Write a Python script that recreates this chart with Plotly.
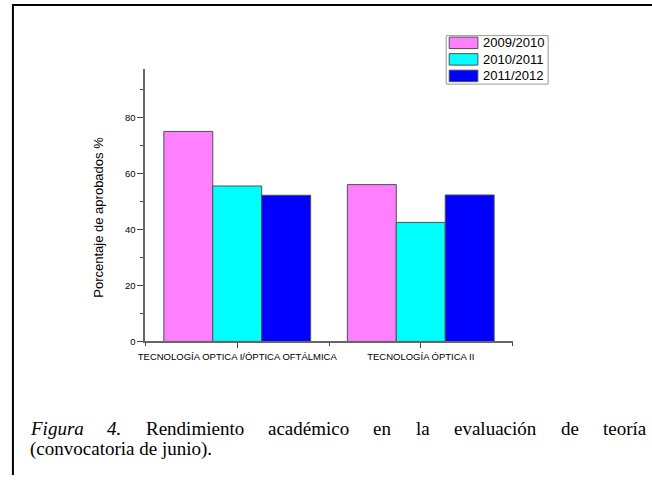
import plotly.graph_objects as go

# ---- data -------------------------------------------------------------
categories = ["TECNOLOGÍA OPTICA I/ÓPTICA OFTÁLMICA", "TECNOLOGÍA ÓPTICA II"]
series_names = ["2009/2010", "2010/2011", "2011/2012"]
values_2009_2010 = [75.0, 56.0]
values_2010_2011 = [55.5, 42.5]
values_2011_2012 = [52.2, 52.3]
series_values = [values_2009_2010, values_2010_2011, values_2011_2012]
series_colors = ["#FF80FF", "#00FFFF", "#0000FF"]
y_ticks = [0, 20, 40, 60, 80]
y_title = "Porcentaje de aprobados %"
caption_line1 = [("Figura", True), ("4.", True), ("Rendimiento", False),
                 ("académico", False), ("en", False), ("la", False),
                 ("evaluación", False), ("de", False), ("teoría", False)]
caption_line2 = "(convocatoria de junio)."

# ---- page geometry (pixels -> paper fractions) -------------------------
W, H = 652, 480


def px(x):
    return x / W


def py(y):
    return 1 - y / H


SANS = "Liberation Sans, Arial, sans-serif"
SERIF = "Liberation Serif, Times New Roman, serif"
AXIS_GREY = "#666666"

x_pos = list(range(1, len(categories) + 1))

fig = go.Figure()
for name, vals, col in zip(series_names, series_values, series_colors):
    fig.add_trace(go.Bar(
        x=x_pos, y=vals, name=name, showlegend=False,
        marker=dict(color=col, line=dict(color="#505050", width=1)),
    ))

fig.update_layout(
    width=W, height=H,
    margin=dict(l=0, r=0, t=0, b=0),
    paper_bgcolor="white", plot_bgcolor="white",
    barmode="group", bargap=0.2, bargroupgap=0,
    xaxis=dict(
        domain=[px(140), px(511)], range=[0.5, len(categories) + 0.5],
        tickvals=x_pos, ticktext=categories,
        ticks="outside", ticklen=5, tickwidth=1, tickcolor="#444444",
        tickfont=dict(family=SANS, size=9.5, color="black"),
        showline=True, linecolor=AXIS_GREY, linewidth=2,
        showgrid=False, zeroline=False,
        minor=dict(tickvals=[p + 0.5 for p in [0] + x_pos], ticks="outside",
                   ticklen=3, tickwidth=1, tickcolor="#444444"),
    ),
    yaxis=dict(
        domain=[py(345), py(70)], range=[0, 97.2],
        tickvals=y_ticks,
        ticks="outside", ticklen=6, tickwidth=1, tickcolor="#444444",
        tickfont=dict(family=SANS, size=9.5, color="black"),
        showline=True, linecolor=AXIS_GREY, linewidth=2,
        showgrid=False, zeroline=False,
        minor=dict(tickvals=[t + 10 for t in y_ticks], ticks="outside",
                   ticklen=3, tickwidth=1, tickcolor="#444444"),
    ),
)

shapes = []
annotations = []

# y-axis title
annotations.append(dict(
    x=px(93), y=py(220), xref="paper", yref="paper", text=y_title,
    textangle=-90, showarrow=False, xanchor="center", yanchor="middle",
    font=dict(family=SANS, size=13, color="black"),
))

# legend box with wide swatches
shapes.append(dict(type="rect", xref="paper", yref="paper",
                   x0=px(444), x1=px(547), y0=py(85), y1=py(36),
                   line=dict(color="#999999", width=1), fillcolor="white"))
row_centers = [43.3, 60.0, 76.7]
for name, col, yc in zip(series_names, series_colors, row_centers):
    shapes.append(dict(type="rect", xref="paper", yref="paper",
                       x0=px(447), x1=px(476), y0=py(yc + 5.8), y1=py(yc - 5.8),
                       line=dict(color="#505050", width=1), fillcolor=col))
    annotations.append(dict(
        x=px(479), y=py(yc), xref="paper", yref="paper", text=name,
        showarrow=False, xanchor="left", yanchor="middle",
        font=dict(family=SANS, size=13, color="black"),
    ))

# page frame (top and left rules)
shapes.append(dict(type="line", xref="paper", yref="paper",
                   x0=px(5), x1=px(652), y0=py(5), y1=py(5),
                   line=dict(color="black", width=2)))
shapes.append(dict(type="line", xref="paper", yref="paper",
                   x0=px(6), x1=px(6), y0=py(4), y1=py(480),
                   line=dict(color="black", width=2)))

# caption: justified first line, words laid out with Times metrics
REG = {'a': 444, 'c': 444, 'd': 500, 'e': 444, 'é': 444, 'g': 500, 'i': 278,
       'í': 278, 'j': 278, 'l': 278, 'm': 778, 'n': 500, 'o': 500, 'ó': 500,
       'r': 333, 's': 389, 't': 278, 'u': 500, 'v': 500, 'R': 667, '(': 333,
       ')': 333, '.': 250, ' ': 250}
ITA = {'F': 611, 'i': 278, 'g': 500, 'u': 500, 'r': 389, 'a': 500, '4': 500,
       '.': 250}
CAP_SIZE = 19
LEFT, RIGHT = 22, 645


def word_width(word, italic):
    table = ITA if italic else REG
    return sum(table.get(ch, 500) for ch in word) / 1000 * CAP_SIZE


widths = [word_width(w, it) for w, it in caption_line1]
gap = (RIGHT - LEFT - sum(widths)) / (len(widths) - 1)
xcur = LEFT
for (word, italic), wdt in zip(caption_line1, widths):
    annotations.append(dict(
        x=px(xcur - 1), y=py(433), xref="paper", yref="paper",
        text=f"<i>{word}</i>" if italic else word,
        showarrow=False, xanchor="left", yanchor="middle",
        font=dict(family=SERIF, size=CAP_SIZE, color="black"),
    ))
    xcur += wdt + gap

annotations.append(dict(
    x=px(LEFT - 1), y=py(454), xref="paper", yref="paper", text=caption_line2,
    showarrow=False, xanchor="left", yanchor="middle",
    font=dict(family=SERIF, size=CAP_SIZE, color="black"),
))

fig.update_layout(shapes=shapes, annotations=annotations)

fig.write_html("out.html")
